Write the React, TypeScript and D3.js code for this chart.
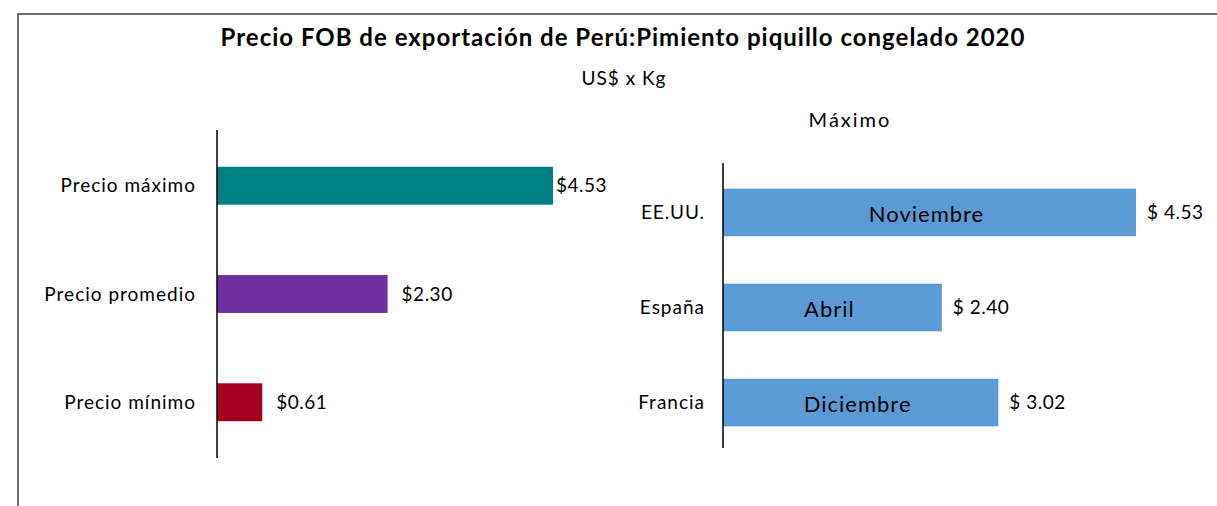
import React, { useEffect, useRef } from 'react';
import * as d3 from 'd3';

// left panel: FOB prices
const priceLabels = ['Precio máximo', 'Precio promedio', 'Precio mínimo'];
const priceValues = [4.53, 2.3, 0.61];
const priceColors = ['#008080', '#7030A0', '#A50021'];

// right panel: maximum by market
const marketLabels = ['EE.UU.', 'España', 'Francia'];
const marketValues = [4.53, 2.4, 3.02];
const marketMonths = ['Noviembre', 'Abril', 'Diciembre'];

const FONT = 'Lato, "Open Sans", sans-serif';

const App: React.FC = () => {
  const ref = useRef<SVGSVGElement>(null);

  useEffect(() => {
    drawChart();
  }, []);

  const drawChart = () => {
    const width = 1217;
    const height = 506;

    d3.select(ref.current).selectAll('*').remove();

    const svg = d3.select(ref.current)
      .attr('width', width)
      .attr('height', height)
      .style('font-family', FONT);

    svg.append('rect')
      .attr('width', width)
      .attr('height', height)
      .attr('fill', '#fff');

    // chart frame (top + left edge visible)
    svg.append('path')
      .attr('d', `M18,${height} L18,14 L${width},14`)
      .attr('fill', 'none')
      .attr('stroke', '#404040')
      .attr('stroke-width', 1.5);

    svg.append('text')
      .attr('x', 623)
      .attr('y', 46)
      .attr('text-anchor', 'middle')
      .style('font-size', '24px')
      .style('font-weight', 'bold')
      .style('letter-spacing', '1px')
      .text('Precio FOB de exportación de Perú:Pimiento piquillo congelado 2020');

    svg.append('text')
      .attr('x', 624)
      .attr('y', 85)
      .attr('text-anchor', 'middle')
      .style('font-size', '19px')
      .style('letter-spacing', '1px')
      .text('US$ x Kg');

    // ---- left panel ----
    const xL = d3.scaleLinear().domain([0, 4.53]).range([217, 553]);
    const yL = d3.scaleBand<string>().domain(priceLabels).range([130, 458]).paddingInner(0.65).paddingOuter(0.34);
    const leftLimit = 607;

    const left = svg.append('g');

    left.selectAll('.bar')
      .data(priceValues)
      .enter().append('rect')
      .attr('x', xL(0))
      .attr('y', (d, i) => yL(priceLabels[i])!)
      .attr('width', d => xL(d) - xL(0))
      .attr('height', yL.bandwidth())
      .attr('fill', (d, i) => priceColors[i]);

    left.append('line')
      .attr('x1', xL(0)).attr('x2', xL(0))
      .attr('y1', 130).attr('y2', 458)
      .attr('stroke', '#000')
      .attr('stroke-width', 1.5);

    left.selectAll('.cat')
      .data(priceLabels)
      .enter().append('text')
      .attr('x', 196)
      .attr('y', d => yL(d)! + yL.bandwidth() / 2)
      .attr('dy', '0.35em')
      .attr('text-anchor', 'end')
      .style('font-size', '19px')
      .style('letter-spacing', '1px')
      .text(d => d);

    left.selectAll('.val')
      .data(priceValues)
      .enter().append('text')
      .attr('y', (d, i) => yL(priceLabels[i])! + yL.bandwidth() / 2)
      .attr('dy', '0.35em')
      .style('font-size', '19px')
      .style('letter-spacing', '0.5px')
      .text(d => `$${d.toFixed(2)}`)
      .each(function (d) {
        const w = (this as SVGTextElement).getComputedTextLength();
        d3.select(this).attr('x', Math.min(xL(d) + 14, leftLimit - w));
      });

    // ---- right panel ----
    const xR = d3.scaleLinear().domain([0, 4.53]).range([723, 1136]);
    const yR = d3.scaleBand<string>().domain(marketLabels).range([163, 452]).paddingInner(0.5).paddingOuter(0.27);

    const right = svg.append('g');

    right.append('text')
      .attr('x', 850)
      .attr('y', 127)
      .attr('text-anchor', 'middle')
      .style('font-size', '20px')
      .style('letter-spacing', '2px')
      .text('Máximo');

    right.selectAll('.bar')
      .data(marketValues)
      .enter().append('rect')
      .attr('x', xR(0))
      .attr('y', (d, i) => yR(marketLabels[i])!)
      .attr('width', d => xR(d) - xR(0))
      .attr('height', yR.bandwidth())
      .attr('fill', '#5B9BD5');

    right.append('line')
      .attr('x1', xR(0)).attr('x2', xR(0))
      .attr('y1', 163).attr('y2', 448)
      .attr('stroke', '#000')
      .attr('stroke-width', 1.5);

    right.selectAll('.cat')
      .data(marketLabels)
      .enter().append('text')
      .attr('x', 705)
      .attr('y', d => yR(d)! + yR.bandwidth() / 2)
      .attr('dy', '0.35em')
      .attr('text-anchor', 'end')
      .style('font-size', '19px')
      .style('letter-spacing', '1px')
      .text(d => d);

    right.selectAll('.month')
      .data(marketValues)
      .enter().append('text')
      .attr('x', d => (xR(0) + xR(d)) / 2 - 3)
      .attr('y', (d, i) => yR(marketLabels[i])! + yR.bandwidth() / 2 + 2)
      .attr('dy', '0.35em')
      .attr('text-anchor', 'middle')
      .style('font-size', '22px')
      .style('letter-spacing', '1px')
      .text((d, i) => marketMonths[i]);

    right.selectAll('.val')
      .data(marketValues)
      .enter().append('text')
      .attr('x', d => xR(d) + 11)
      .attr('y', (d, i) => yR(marketLabels[i])! + yR.bandwidth() / 2)
      .attr('dy', '0.35em')
      .style('font-size', '19px')
      .style('letter-spacing', '0.5px')
      .text(d => `$ ${d.toFixed(2)}`);
  };

  return (
    <div style={{ position: 'absolute', left: 0, top: 0 }}>
      <svg ref={ref} style={{ display: 'block' }}></svg>
    </div>
  );
};

export default App;
